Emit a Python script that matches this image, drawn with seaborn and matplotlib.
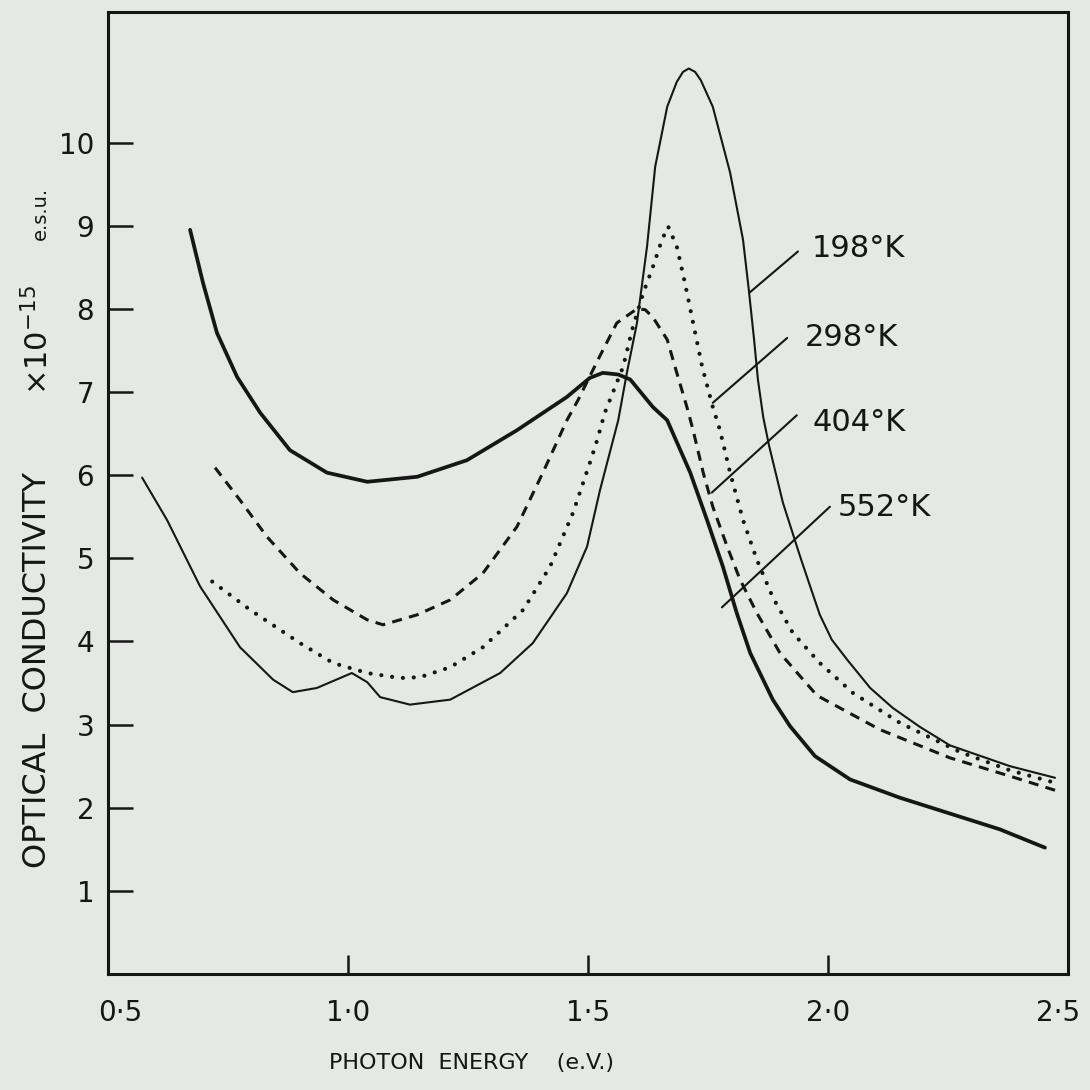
import matplotlib
matplotlib.use("Agg")
import matplotlib.pyplot as plt
import matplotlib.transforms as mtransforms
import seaborn as sns

# photon energy (eV) and optical conductivity (x10^-15 e.s.u.)
e_198 = [0.571, 0.623, 0.692, 0.775, 0.844, 0.885, 0.935, 1.008, 1.040, 1.067, 1.129, 1.213,
         1.317, 1.385, 1.456, 1.498, 1.525, 1.563, 1.581, 1.602, 1.623, 1.640, 1.665, 1.685,
         1.698, 1.710, 1.723, 1.735, 1.760, 1.796, 1.823, 1.835, 1.846, 1.854, 1.865, 1.877,
         1.906, 1.942, 1.963, 1.983, 2.008, 2.040, 2.088, 2.135, 2.192, 2.254, 2.379, 2.473]
s_198 = [5.97, 5.46, 4.66, 3.93, 3.54, 3.39, 3.44, 3.62, 3.51, 3.33, 3.24, 3.30,
         3.62, 3.98, 4.58, 5.14, 5.82, 6.66, 7.23, 7.83, 8.75, 9.71, 10.43, 10.73,
         10.85, 10.89, 10.85, 10.75, 10.43, 9.64, 8.83, 8.23, 7.63, 7.15, 6.70, 6.36,
         5.67, 5.02, 4.66, 4.32, 4.02, 3.78, 3.44, 3.20, 2.97, 2.75, 2.50, 2.36]

e_298 = [0.717, 0.796, 0.900, 0.969, 1.040, 1.108, 1.150, 1.213, 1.281, 1.365, 1.421, 1.469,
         1.504, 1.519, 1.535, 1.573, 1.592, 1.615, 1.635, 1.654, 1.667, 1.685, 1.702, 1.719,
         1.738, 1.760, 1.775, 1.796, 1.823, 1.852, 1.885, 1.927, 1.983, 2.052, 2.150, 2.275,
         2.379, 2.473]
s_298 = [4.72, 4.38, 3.98, 3.74, 3.62, 3.56, 3.57, 3.69, 3.93, 4.38, 4.90, 5.55,
         6.15, 6.42, 6.75, 7.30, 7.75, 8.19, 8.50, 8.83, 8.99, 8.75, 8.31, 7.83,
         7.30, 6.82, 6.54, 6.03, 5.46, 4.98, 4.53, 4.10, 3.74, 3.38, 3.02, 2.67,
         2.45, 2.30]

e_404 = [0.723, 0.775, 0.831, 0.900, 0.969, 1.040, 1.073, 1.144, 1.213, 1.281, 1.352, 1.406,
         1.456, 1.479, 1.521, 1.560, 1.602, 1.619, 1.635, 1.665, 1.685, 1.706, 1.719, 1.740,
         1.760, 1.790, 1.817, 1.852, 1.900, 1.977, 2.108, 2.254, 2.379, 2.473]
s_404 = [6.09, 5.70, 5.26, 4.82, 4.50, 4.26, 4.20, 4.32, 4.50, 4.82, 5.38, 6.03,
         6.66, 6.90, 7.39, 7.83, 8.00, 7.99, 7.90, 7.63, 7.23, 6.82, 6.54, 6.03,
         5.62, 5.14, 4.74, 4.34, 3.86, 3.35, 2.94, 2.60, 2.38, 2.21]

e_552 = [0.671, 0.698, 0.727, 0.769, 0.817, 0.879, 0.956, 1.040, 1.144, 1.248, 1.352, 1.456,
         1.504, 1.531, 1.563, 1.588, 1.635, 1.665, 1.713, 1.748, 1.781, 1.810, 1.838, 1.885,
         1.921, 1.973, 2.046, 2.150, 2.254, 2.358, 2.452]
s_552 = [8.95, 8.31, 7.71, 7.18, 6.75, 6.30, 6.03, 5.92, 5.98, 6.18, 6.54, 6.94,
         7.17, 7.23, 7.21, 7.15, 6.82, 6.66, 6.03, 5.46, 4.90, 4.34, 3.86, 3.30,
         2.98, 2.62, 2.34, 2.12, 1.93, 1.74, 1.52]

temps = ["198°K", "298°K", "404°K", "552°K"]
x_ticks = [0.5, 1.0, 1.5, 2.0, 2.5]
x_labels = ["0·5", "1·0", "1·5", "2·0", "2·5"]
y_ticks = [1, 2, 3, 4, 5, 6, 7, 8, 9, 10]

sns.set_theme(style="white")
plt.rcParams['font.family'] = ['DejaVu Sans']

paper = '#e4e9e3'
ink = '#161616'

fig = plt.figure(figsize=(10.9, 10.9), dpi=100, facecolor=paper)
ax = fig.add_axes([0.0991, 0.1064, 0.8807, 0.8826])
ax.set_facecolor(paper)

sns.lineplot(x=e_198, y=s_198, ax=ax, color=ink, lw=1.5, sort=False, estimator=None)
sns.lineplot(x=e_298, y=s_298, ax=ax, color=ink, lw=3.0, sort=False, estimator=None,
             linestyle=(0, (0.01, 2.6)), dash_capstyle='round')
sns.lineplot(x=e_404, y=s_404, ax=ax, color=ink, lw=2.2, sort=False, estimator=None,
             linestyle=(0, (3.3, 2.4)))
sns.lineplot(x=e_552, y=s_552, ax=ax, color=ink, lw=2.7, sort=False, estimator=None)

# leader lines from the temperature labels to their curves
leaders = [((1.9375, 8.69), (1.8375, 8.20), (1.967, 8.73)),
           ((1.915, 7.65), (1.760, 6.87), (1.952, 7.66)),
           ((1.935, 6.72), (1.758, 5.79), (1.967, 6.63)),
           ((2.004, 5.62), (1.779, 4.41), (2.021, 5.61))]
for name, (start, end, txt) in zip(temps, leaders):
    ax.plot([start[0], end[0]], [start[1], end[1]], color=ink, lw=1.5)
    ax.text(txt[0], txt[1], name, fontsize=22, color=ink, ha='left', va='center')

ax.set_xlim(0.5, 2.5)
ax.set_ylim(0, 11.57)
ax.set_xticks(x_ticks)
ax.set_xticklabels(x_labels)
ax.set_yticks(y_ticks)
ax.set_yticklabels([str(v) for v in y_ticks])
ax.tick_params(axis='x', bottom=True, direction='in', length=14, width=1.8, color=ink,
               labelsize=20, labelcolor=ink, pad=18)
ax.tick_params(axis='y', left=True, direction='in', length=18, width=1.8, color=ink,
               labelsize=20, labelcolor=ink, pad=10)
# keep the hand-lettered end labels inside the sheet
shift = mtransforms.ScaledTranslation(-10 / 100, 0, fig.dpi_scale_trans)
last = ax.get_xticklabels()[-1]
last.set_transform(last.get_transform() + shift)
first = ax.get_xticklabels()[0]
first.set_transform(first.get_transform() + mtransforms.ScaledTranslation(12 / 100, 0, fig.dpi_scale_trans))

for sp in ax.spines.values():
    sp.set_color(ink)
    sp.set_linewidth(2.2)
ax.set_xlabel("")
ax.set_ylabel("")

fig.text(0.433, 0.025, "PHOTON  ENERGY    (e.V.)", fontsize=16, color=ink,
         ha='center', va='center')
fig.text(0.034, 0.385, "OPTICAL  CONDUCTIVITY", fontsize=23, color=ink,
         rotation=90, ha='center', va='center')
fig.text(0.035, 0.688, "×10$^{-15}$", fontsize=22, color=ink,
         rotation=90, ha='center', va='center')
fig.text(0.037, 0.804, "e.s.u.", fontsize=14, color=ink,
         rotation=90, ha='center', va='center')

fig.savefig("out.png", dpi=100, facecolor=paper)
